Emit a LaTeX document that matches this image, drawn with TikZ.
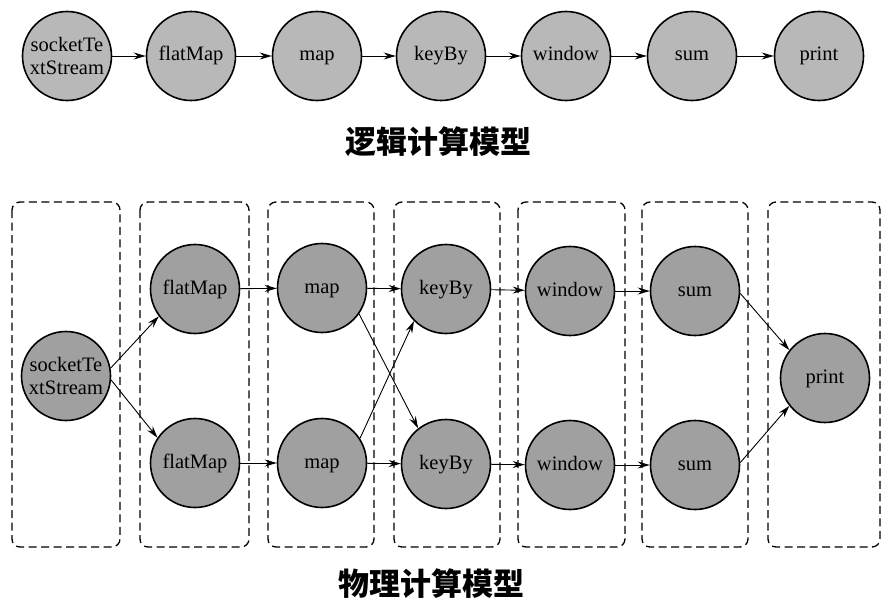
\documentclass[tikz,border=0pt]{standalone}
\usepackage{fontspec}
\setmainfont{Liberation Serif}
\newfontfamily\cjk{Noto Sans CJK SC}
\usetikzlibrary{arrows.meta}
\definecolor{topfill}{RGB}{184,184,184}
\definecolor{botfill}{RGB}{160,160,160}
\tikzset{
  opnode/.style={circle, draw=black, line width=1.6pt, minimum size=89pt, inner sep=0pt, align=center, font=\fontsize{20.5}{23}\selectfont},
  oneline/.style={text height=10pt, text depth=0pt},
  topop/.style={opnode, fill=topfill},
  botop/.style={opnode, fill=botfill},
  flow/.style={line width=0.9pt, -{Stealth[length=12pt,width=7pt,inset=4pt]}},
  taskbox/.style={draw=black, line width=1.3pt, dash pattern=on 8pt off 4.5pt, rounded corners=8pt},
  title/.style={font=\cjk\bfseries\fontsize{31}{33}\selectfont}
}
\begin{document}
\begin{tikzpicture}[x=1pt,y=-1pt]
\useasboundingbox (0,0) rectangle (891,615);
% logical model
\node[topop] (ts) at (67,56) {socketTe\\xtStream};
\node[topop,oneline] (tf) at (191,56) {flatMap};
\node[topop,oneline] (tm) at (317,56) {map};
\node[topop,oneline] (tk) at (441,56) {keyBy};
\node[topop,oneline] (tw) at (566,56) {window};
\node[topop,oneline] (tu) at (692,56) {sum};
\node[topop,oneline] (tp) at (819,56) {print};
\draw[flow] (ts) -- (tf);
\draw[flow] (tf) -- (tm);
\draw[flow] (tm) -- (tk);
\draw[flow] (tk) -- (tw);
\draw[flow] (tw) -- (tu);
\draw[flow] (tu) -- (tp);
\node[title] (t1) at (438,142) {逻辑计算模型};
% physical model boxes
\draw[taskbox] (12,202) rectangle (120,547);
\draw[taskbox] (140,202) rectangle (249,547);
\draw[taskbox] (268,202) rectangle (374,547);
\draw[taskbox] (394,202) rectangle (500,547);
\draw[taskbox] (518,202) rectangle (625,547);
\draw[taskbox] (642,202) rectangle (748,547);
\draw[taskbox] (768,202) rectangle (880,547);
% physical nodes
\node[botop] (bs) at (66,376) {socketTe\\xtStream};
\node[botop,oneline] (f1) at (195,289) {flatMap};
\node[botop,oneline] (f2) at (195,463) {flatMap};
\node[botop,oneline] (m1) at (322,288) {map};
\node[botop,oneline] (m2) at (322,463) {map};
\node[botop,oneline] (k1) at (446,289) {keyBy};
\node[botop,oneline] (k2) at (446,464) {keyBy};
\node[botop,oneline] (w1) at (570,291) {window};
\node[botop,oneline] (w2) at (570,465) {window};
\node[botop,oneline] (u1) at (695,291) {sum};
\node[botop,oneline] (u2) at (695,465) {sum};
\node[botop,oneline] (bp) at (825,378) {print};
\draw[flow] (bs.10) -- (f1.217);
\draw[flow] (bs.-5) -- (f2.146);
\draw[flow] (f1) -- (m1);
\draw[flow] (f2) -- (m2);
\draw[flow] (m1) -- (k1);
\draw[flow] (m2) -- (k2);
\draw[flow] (m1.-35) -- (k2.128);
\draw[flow] (m2.33) -- (k1.225);
\draw[flow] (k1) -- (w1);
\draw[flow] (k2) -- (w2);
\draw[flow] (w1) -- (u1);
\draw[flow] (w2) -- (u2);
\draw[flow] (u1.-3) -- (bp.142);
\draw[flow] (u2.3) -- (bp.218);
\node[title] (t2) at (431,584) {物理计算模型};
\end{tikzpicture}
\end{document}
